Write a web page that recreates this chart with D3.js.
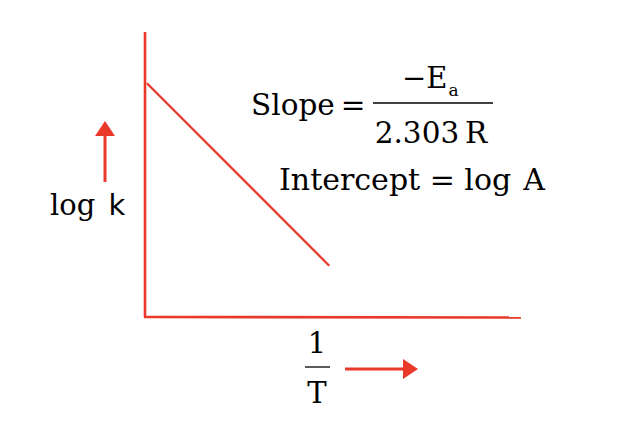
<!DOCTYPE html>
<html>
<head>
  <meta charset="UTF-8">
  <title>log k vs 1/T</title>
  <script src="https://d3js.org/d3.v7.min.js"></script>
  <style>
    html, body { margin:0; padding:0; background:#fff; }
    .serif { font-family: "DejaVu Serif", serif; fill:#000; }
    .sans { font-family: "DejaVu Sans", sans-serif; fill:#000; }
  </style>
</head>
<body>
<div id="chart"></div>
<script>
// data: straight line log k against 1/T (arbitrary units, 0..100 frame)
const xDomain = [0, 100];
const yDomain = [0, 100];
const lineX = [0.5, 49];
const lineY = [82, 18];
const xLabelTop = '1', xLabelBottom = 'T';
const yLabelText = 'log', yLabelVar = 'k';
const slopeNum = '\u2212E', slopeSub = 'a', slopeDen = '2.303\u2009R';
const interceptText = 'Intercept = log\u2009\u2009A';

const W = 636, H = 440;
const red = '#e8392b';
const margin = {top:32, right:115, bottom:123, left:145};

const svg = d3.select('#chart').append('svg')
  .attr('width', W).attr('height', H);

const x = d3.scaleLinear().domain(xDomain).range([margin.left, W - margin.right]);
const y = d3.scaleLinear().domain(yDomain).range([H - margin.bottom, margin.top]);

// axes (plain lines, no ticks)
svg.append('line')
  .attr('x1', x(0)).attr('y1', y(100))
  .attr('x2', x(0)).attr('y2', y(0))
  .attr('stroke', red).attr('stroke-width', 2.6);
svg.append('line')
  .attr('x1', x(0) - 1).attr('y1', y(0))
  .attr('x2', x(100)).attr('y2', y(0) + 0.5)
  .attr('stroke', red).attr('stroke-width', 2.6);

// the fitted line
const pts = lineX.map((v,i) => [v, lineY[i]]);
svg.append('path')
  .datum(pts)
  .attr('fill', 'none')
  .attr('stroke', red)
  .attr('stroke-width', 2.3)
  .attr('d', d3.line().x(d => x(d[0])).y(d => y(d[1])));

// arrows
function arrow(x1, y1, x2, y2){
  const ang = Math.atan2(y2 - y1, x2 - x1);
  const len = 15, half = 10;
  const bx = x2 - len*Math.cos(ang), by = y2 - len*Math.sin(ang);
  svg.append('line')
    .attr('x1', x1).attr('y1', y1).attr('x2', bx).attr('y2', by)
    .attr('stroke', red).attr('stroke-width', 3);
  const px = -Math.sin(ang)*half, py = Math.cos(ang)*half;
  svg.append('path')
    .attr('d', `M${x2},${y2}L${bx+px},${by+py}L${bx-px},${by-py}Z`)
    .attr('fill', red);
}
arrow(105, 182, 105, 121);
arrow(345, 369, 418, 369);

// y label
const yl = svg.append('text').attr('x', 50).attr('y', 215);
yl.append('tspan').attr('class','serif').attr('font-size', 29).text(yLabelText + ' ');
yl.append('tspan').attr('class','sans').attr('font-size', 29).attr('dx', 4).text(yLabelVar);

// x label as fraction 1/T
svg.append('text').attr('class','serif').attr('font-size', 29)
  .attr('x', 317).attr('y', 353).attr('text-anchor','middle').text(xLabelTop);
svg.append('line').attr('x1', 305).attr('x2', 330).attr('y1', 367).attr('y2', 367)
  .attr('stroke', '#000').attr('stroke-width', 1.3);
svg.append('text').attr('class','serif').attr('font-size', 29)
  .attr('x', 317).attr('y', 403).attr('text-anchor','middle').text(xLabelBottom);

// slope formula
svg.append('text').attr('class','serif').attr('font-size', 29.5)
  .attr('x', 251).attr('y', 115).text('Slope\u2009=');
svg.append('line').attr('x1', 373).attr('x2', 493).attr('y1', 103).attr('y2', 103)
  .attr('stroke', '#000').attr('stroke-width', 1.3);
const num = svg.append('text').attr('class','serif').attr('font-size', 29)
  .attr('x', 402).attr('y', 88);
num.append('tspan').text(slopeNum);
num.append('tspan').attr('font-size', 17).attr('dx', 1).attr('dy', 8).text(slopeSub);
svg.append('text').attr('class','serif').attr('font-size', 29.5)
  .attr('x', 431).attr('y', 143).attr('text-anchor','middle').text(slopeDen);

// intercept
svg.append('text').attr('class','serif').attr('font-size', 30)
  .attr('x', 279).attr('y', 190).text(interceptText);
</script>
</body>
</html>
